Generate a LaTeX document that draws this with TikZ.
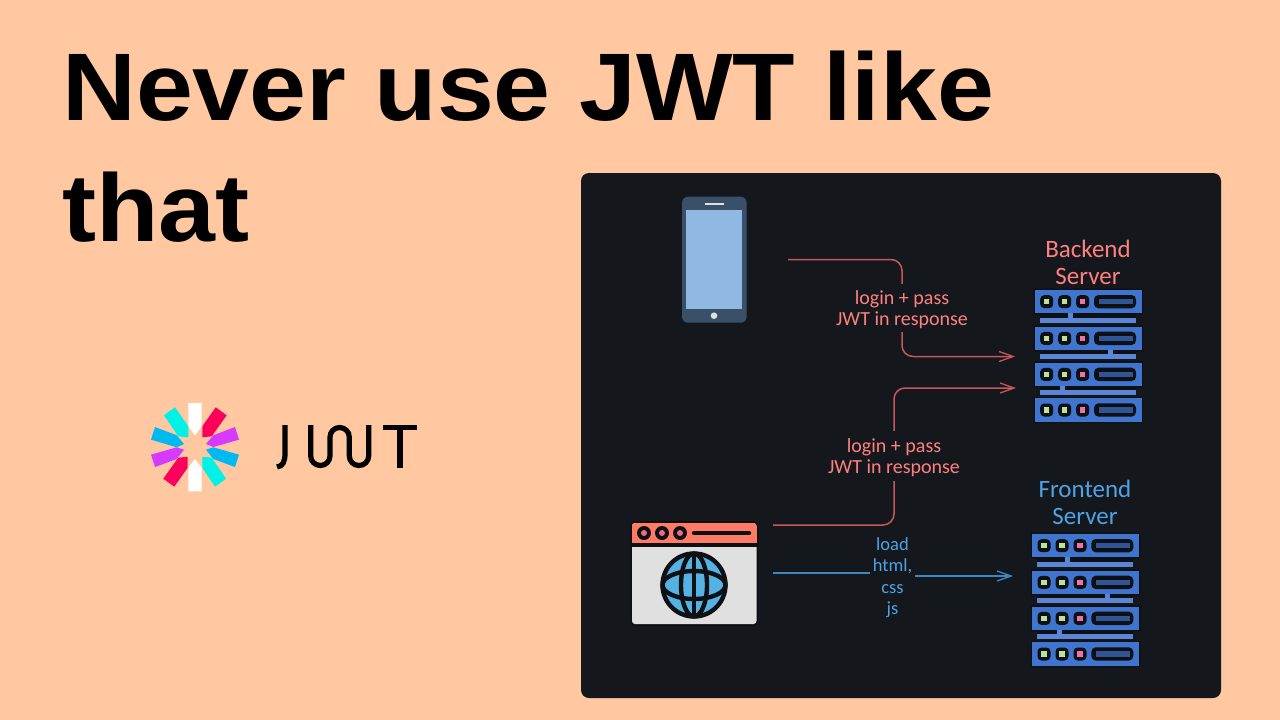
\documentclass[tikz,border=0pt]{standalone}
\usepackage{fontspec}
\setmainfont[FakeStretch=1.065]{Liberation Sans}
\newfontfamily\handfont{Carlito}
\usetikzlibrary{arrows.meta}
\definecolor{pagebg}{HTML}{FFC8A0}
\definecolor{panel}{HTML}{14171C}
\definecolor{ink}{HTML}{0E1013}
\definecolor{redline}{HTML}{C9575A}
\definecolor{redtext}{HTML}{FF8080}
\definecolor{blueline}{HTML}{3F86C4}
\definecolor{bluetext}{HTML}{4EA3E6}
\definecolor{rowblue}{HTML}{3F74CF}
\definecolor{barblue}{HTML}{5B86D8}
\definecolor{slotblue}{HTML}{2F5596}
\definecolor{ledgreen}{HTML}{B6E3A0}
\definecolor{ledpink}{HTML}{F06FB0}
\definecolor{phonebody}{HTML}{3A5068}
\definecolor{phonescreen}{HTML}{8FB8E3}
\definecolor{coral}{HTML}{FF7B66}
\definecolor{bodygrey}{HTML}{E0E0E0}
\definecolor{globe}{HTML}{55B3E3}
\definecolor{dotpink}{HTML}{F06A85}
\definecolor{jwtred}{HTML}{FB015B}
\definecolor{jwtcyan}{HTML}{00F2E6}
\definecolor{jwtpurple}{HTML}{D63AFF}
\definecolor{jwtblue}{HTML}{00B9F1}
\tikzset{
  x=1pt,y=-1pt,
  conn/.style={line width=1.5pt,rounded corners=11pt},
  arrowed/.style={-{Straight Barb[length=14pt,width=10pt,line width=1.3pt]}},
  title/.style={anchor=base west,inner sep=0pt,font=\fontsize{96}{96}\selectfont\bfseries,text=black},
  hand/.style={inner sep=0pt,align=center,font=\handfont\fontsize{20}{21}\selectfont},
  handsmall/.style={inner sep=0pt,align=center,font=\handfont\fontsize{18.5}{21.3}\selectfont},
  head/.style={inner sep=0pt,align=center,font=\handfont\fontsize{25}{27}\selectfont},
  wordmark/.style={line width=5.2pt,draw=black},
}
\newcommand{\lift}{\rule{0pt}{18pt}}
\newcommand{\srvrow}[1]{%
  \fill[ink,rounded corners=1.5pt] (-1.5,#1-1.5) rectangle (108.2,#1+24.8);
  \fill[rowblue] (0,#1) rectangle (106.7,#1+23.3);
  \foreach \lx/\lc in {11.7/ledgreen,29.7/ledgreen,47.7/ledpink}{
    \fill[ink,rounded corners=4pt] (\lx-6.5,#1+5.2) rectangle (\lx+6.5,#1+18.2);
    \fill[\lc] (\lx-2.7,#1+9) rectangle (\lx+2.7,#1+14.4);
  }
  \fill[ink,rounded corners=4.5pt] (59,#1+5) rectangle (101,#1+18.3);
  \fill[slotblue] (63.5,#1+9) rectangle (97.5,#1+14.4);
}
\newcommand{\srvbar}[2]{%
  \fill[ink] (5,#1+23.3) rectangle (101,#1+27.5);
  \fill[barblue] (#2-2.5,#1+23.3) rectangle (#2+2.5,#1+28);
  \fill[barblue] (5,#1+27.5) rectangle (101,#1+32.5);
}
\newcommand{\srvstack}{%
  \srvrow{0}\srvrow{36.7}\srvrow{72.7}\srvrow{108.3}
  \srvbar{0}{35}\srvbar{36.7}{75}\srvbar{72.7}{27}
}
\begin{document}
\begin{tikzpicture}
\useasboundingbox (0,0) rectangle (1280,720);
\fill[pagebg] (0,0) rectangle (1280,720);
\fill[panel,rounded corners=8pt] (581,173) rectangle (1221,698);
% title
\node[title] (t1) at (62,120) {Never use JWT like};
\node[title] (t2) at (62,241) {that};
% jwt star
\fill[white] (188.3,403)--(201.7,403)--(201.7,426.3)--(195,435.3)--(188.3,426.3)--cycle;
\fill[white] (188.3,491.3)--(201.7,491.3)--(201.7,468)--(195,459)--(188.3,468)--cycle;
\fill[jwtred] (215.7,407.3)--(226.7,415.3)--(211.7,436.3)--(202.3,437.3)--(202.3,426.3)--cycle;
\fill[jwtred] (174.3,486.7)--(163.3,478.7)--(178.3,457.7)--(187.7,456.7)--(187.7,467.7)--cycle;
\fill[jwtcyan] (164,415.3)--(175,407.3)--(188.3,426.3)--(188.3,437.3)--(178.3,436.3)--cycle;
\fill[jwtcyan] (226,478.7)--(215,486.7)--(202.3,467.7)--(202.3,456.7)--(211.7,457.7)--cycle;
\fill[jwtpurple] (235,427)--(239,439.7)--(213.3,447)--(206,444)--(213.3,435.3)--cycle;
\fill[jwtpurple] (151,454.7)--(155,467)--(176.7,459)--(184,449.7)--(176.7,447.3)--cycle;
\fill[jwtblue] (155,427)--(151,439.7)--(176.7,447.3)--(184,444)--(176.7,435.3)--cycle;
\fill[jwtblue] (239,454.7)--(235,467)--(213.3,459)--(206,449.7)--(213.3,447.3)--cycle;
% jwt wordmark
\draw[wordmark] (285,425)--(285,453) .. controls (285,462) and (283,466) .. (277,467);
\draw[wordmark,rounded corners=9.6pt] (310.7,425)--(310.7,465.5)--(330,465.5)--(330,427.5)--(349.3,427.5)--(349.3,465.5)--(368.7,465.5)--(368.7,425);
\draw[wordmark] (382.7,427.5)--(417.3,427.5);
\draw[wordmark] (400,427.5)--(400,468);
% phone
\fill[phonebody,rounded corners=6pt] (682,196.7) rectangle (746.7,322.7);
\fill[phonescreen] (686.3,210) rectangle (742.3,308.7);
\fill[bodygrey] (704.7,203) rectangle (724,205);
\fill[bodygrey] (714,315.7) circle (3.3pt);
% browser
\fill[ink,rounded corners=5pt] (630,521) rectangle (758.5,626);
\fill[bodygrey,rounded corners=3pt] (632,523) rectangle (756.5,624);
\fill[coral,rounded corners=3pt] (632,523) rectangle (756.5,536);
\fill[coral] (632,530) rectangle (756.5,542.6);
\fill[ink] (632,542.6) rectangle (756.5,547);
\foreach \dx in {644,662,680}{
  \fill[ink] (\dx,533) circle (7pt);
  \fill[dotpink] (\dx,533) circle (3pt);
}
\draw[ink,line width=4.5pt,line cap=round] (694,533)--(749,533);
\fill[globe] (694,585) circle (31.5pt);
\draw[ink,line width=4.4pt] (694,585) circle (31.5pt);
\draw[ink,line width=4.4pt] (694,585) ellipse [x radius=13pt,y radius=31.5pt];
\draw[ink,line width=4.4pt] (694,585) ellipse [x radius=31.5pt,y radius=14pt];
\draw[ink,line width=4.4pt] (694,553)--(694,617);
% servers
\begin{scope}[shift={(1035,290)}]\srvstack\end{scope}
\begin{scope}[shift={(1032.3,534)}]\srvstack\end{scope}
\node[head,text=redtext] (backend) at (1088,262) {Backend\\Server};
\node[head,text=bluetext] (frontend) at (1085,502) {Frontend\\Server};
% labels
\node[hand,text=redtext,minimum height=48pt] (l1) at (902,308) {\lift login + pass\\JWT in response};
\node[hand,text=redtext,minimum height=50pt] (l2) at (894,456) {\lift login + pass\\JWT in response};
\node[handsmall,text=bluetext,minimum width=44pt] (l3) at (892.5,575) {\lift load\\html,\\css\\js};
% connector ends
\coordinate (a1) at (788,259.5);
\coordinate (b1) at (1015,356.5);
\coordinate (a2) at (773,525);
\coordinate (b2) at (1016,388);
\coordinate (a3) at (773,573);
\coordinate (b3) at (1013,576);
\draw[redline,conn] (a1) -| (l1.north);
\draw[redline,conn,arrowed] (l1.south) |- (b1);
\draw[redline,conn] (a2) -| (l2.south);
\draw[redline,conn,arrowed] (l2.north) |- (b2);
\draw[blueline,conn] (a3) -- (l3.west |- a3);
\draw[blueline,conn,arrowed] (l3.east |- b3) -- (b3);
\end{tikzpicture}
\end{document}
